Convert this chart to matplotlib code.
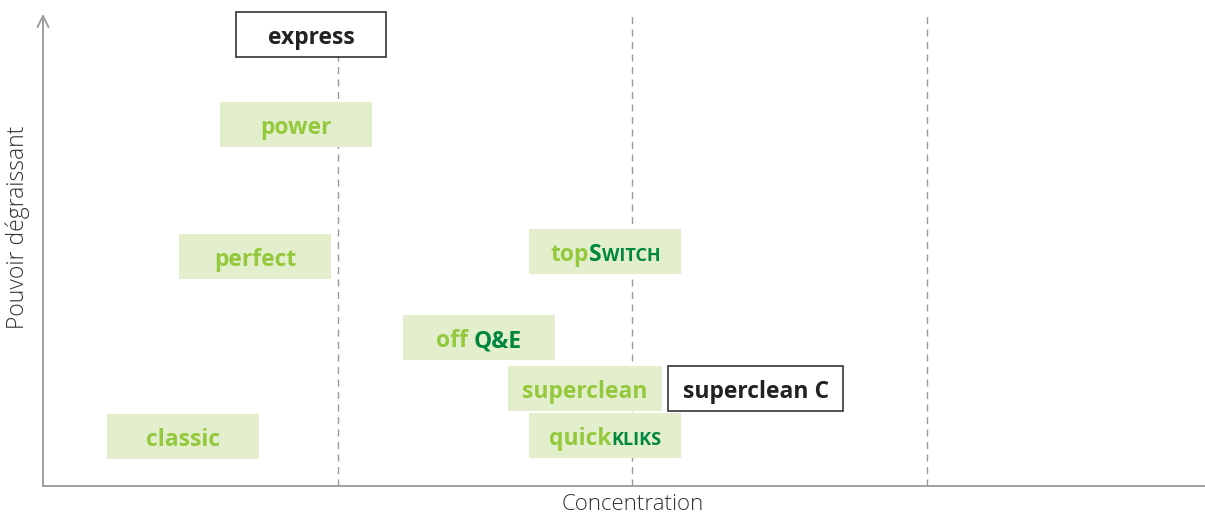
import matplotlib.pyplot as plt
from matplotlib.patches import Rectangle
from matplotlib.offsetbox import TextArea, HPacker, AnnotationBbox

# products: label parts (text, kind) ; kind: 'l' light green, 'd' dark green, 's' dark green small caps, 'k' black
labels = [
    [("express", "k")],
    [("power", "l")],
    [("perfect", "l")],
    [("top", "l"), ("S", "d"), ("WITCH", "s")],
    [("off ", "l"), ("Q&E", "d")],
    [("superclean", "l")],
    [("superclean C", "k")],
    [("quick", "l"), ("KLIKS", "s")],
    [("classic", "l")],
]
concentration = [0.91, 0.86, 0.72, 1.91, 1.48, 1.84, 2.42, 1.91, 0.475]
degreasing = [95.6, 76.5, 48.7, 49.6, 31.4, 20.6, 20.7, 10.6, 10.4]
outlined = [True, False, False, False, False, False, True, False, False]
box_px = [150, 152, 152, 152, 152, 154, 175, 152, 152]

px_per_x = 294.5
px_per_y = 472 / 100

light = "#95c93d"
dark = "#00863f"
fill = "#e3efcc"

fig = plt.figure(figsize=(12.05, 5.15), dpi=100)
ax = fig.add_axes([43 / 1205, 29 / 515, 1162 / 1205, 472 / 515])
ax.set_xlim(0, 1162 / px_per_x)
ax.set_ylim(0, 100)
for s in ["top", "right", "left"]:
    ax.spines[s].set_visible(False)
ax.spines["bottom"].set_color("#999999")
ax.spines["bottom"].set_linewidth(1.3)
ax.set_xticks([])
ax.set_yticks([])

ax.annotate("", xy=(0, 1.0), xytext=(0, 0), xycoords="axes fraction",
            arrowprops=dict(arrowstyle="->,head_length=0.8,head_width=0.4",
                            color="#999999", lw=1.3, shrinkA=0, shrinkB=0))

for gx in [1, 2, 3]:
    ax.axvline(gx, ymin=0, ymax=1, color="#999999", lw=1, ls=(0, (5, 4)))

styles = {
    "l": dict(color=light, fontsize=16.5),
    "d": dict(color=dark, fontsize=16.5),
    "s": dict(color=dark, fontsize=13),
    "k": dict(color="#222222", fontsize=16.5),
}

for parts, cx, cy, out, wpx in zip(labels, concentration, degreasing, outlined, box_px):
    w = wpx / px_per_x
    h = 45 / px_per_y
    if out:
        rect = Rectangle((cx - w / 2, cy - h / 2), w, h, facecolor="white",
                         edgecolor="#333333", lw=1.2, zorder=3, clip_on=False)
    else:
        rect = Rectangle((cx - w / 2, cy - h / 2), w, h, facecolor=fill,
                         edgecolor="none", zorder=3, clip_on=False)
    ax.add_patch(rect)
    areas = []
    for txt, kind in parts:
        st = styles[kind]
        areas.append(TextArea(txt, textprops=dict(color=st["color"], fontsize=st["fontsize"],
                                                  fontweight="bold", family="Open Sans")))
    pack = HPacker(children=areas, align="baseline", pad=0, sep=0)
    ab = AnnotationBbox(pack, (cx, cy), xybox=(0, -2.5), boxcoords="offset points",
                        frameon=False, box_alignment=(0.5, 0.5), zorder=4, pad=0,
                        annotation_clip=False)
    ax.add_artist(ab)

fig.text(633 / 1205, 1 - 504 / 515, "Concentration", ha="center", va="center",
         fontsize=16, color="#333333", family="Open Sans", fontweight="light")
fig.text(18 / 1205, 1 - 227 / 515, "Pouvoir dégraissant", ha="center", va="center",
         rotation=90, fontsize=16.5, color="#333333", family="Open Sans", fontweight="light")

fig.savefig("out.png", dpi=100)
